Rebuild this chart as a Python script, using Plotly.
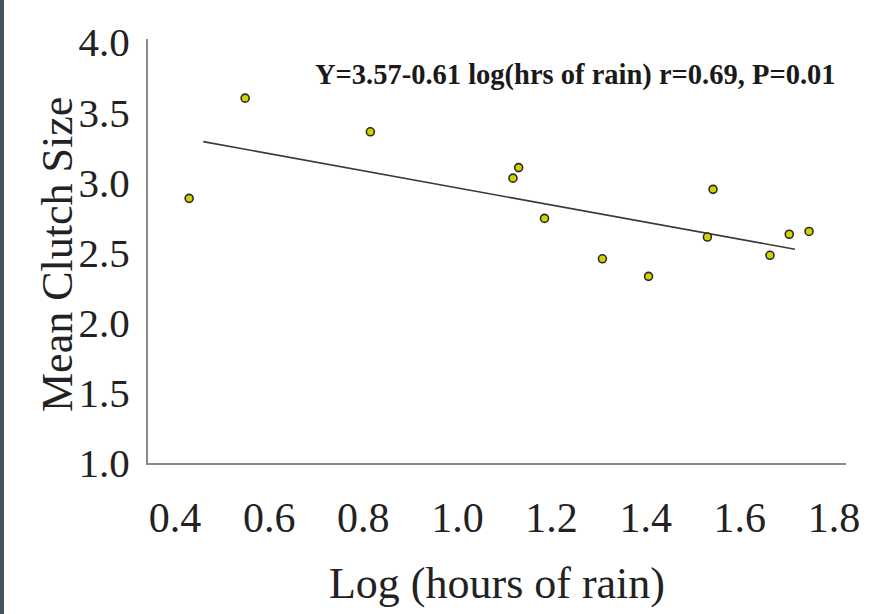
import plotly.graph_objects as go

# Data
log_hours = [0.43, 0.549, 0.815, 1.118, 1.130, 1.185, 1.308, 1.406, 1.531, 1.543, 1.664, 1.705, 1.747]
clutch = [2.886, 3.60, 3.36, 3.03, 3.105, 2.743, 2.455, 2.33, 2.61, 2.95, 2.48, 2.63, 2.65]
fit_x = [0.46, 1.717]
fit_y = [3.29, 2.523]
x_ticks = [0.4, 0.6, 0.8, 1.0, 1.2, 1.4, 1.6, 1.8]
y_ticks = [1.0, 1.5, 2.0, 2.5, 3.0, 3.5, 4.0]
equation = "Y=3.57-0.61 log(hrs of rain) r=0.69, P=0.01"

W, H = 873, 614
ML, MR, MT, MB = 148, 27, 39, 151
PW = W - ML - MR
PH = H - MT - MB

fig = go.Figure()
fig.add_trace(go.Scatter(x=fit_x, y=fit_y, mode="lines",
                         line=dict(color="#3a3a3a", width=1.6), showlegend=False))
fig.add_trace(go.Scatter(x=log_hours, y=clutch, mode="markers",
                         marker=dict(size=8, color="#d2d200", line=dict(color="#2a2a2a", width=1.6)),
                         showlegend=False))

serif = "Liberation Serif, Times New Roman, serif"
fig.update_layout(
    width=W, height=H,
    margin=dict(l=ML, r=MR, t=MT, b=MB, pad=0),
    paper_bgcolor="white", plot_bgcolor="white",
    font=dict(family=serif, color="#222"),
    xaxis=dict(range=[0.3426, 1.8255], tickvals=x_ticks, ticktext=[f"{v:.1f}" for v in x_ticks],
               showgrid=False, zeroline=False, showline=True, linecolor="#8a8a8a", linewidth=2,
               ticks="", tickfont=dict(size=42, family=serif, color="#222"), ticklabelstandoff=17,
               title=dict(text="Log (hours of rain)", font=dict(size=44, family=serif, color="#222"), standoff=27)),
    yaxis=dict(range=[1.0, 4.0214], tickvals=y_ticks, ticktext=[f"{v:.1f}" for v in y_ticks],
               showgrid=False, zeroline=False, showline=True, linecolor="#8a8a8a", linewidth=2,
               ticks="", tickfont=dict(size=41, family=serif, color="#222"), ticklabelstandoff=8,
               title=dict(text="", font=dict(size=44, family=serif, color="#222"))),
    annotations=[
        dict(text="<b>" + equation + "</b>", xref="paper", yref="paper",
             x=(313 - ML) / PW, y=(H - MB - 75) / PH, xanchor="left", yanchor="middle",
             showarrow=False, font=dict(size=28.5, family=serif, color="#1a1a1a")),
        dict(text="Mean Clutch Size", xref="paper", yref="paper", textangle=-90,
             x=(57 - ML) / PW, y=(H - MB - 255) / PH, xanchor="center", yanchor="middle",
             showarrow=False, font=dict(size=44, family=serif, color="#222")),
    ],
    shapes=[dict(type="rect", xref="paper", yref="paper",
                 x0=(0 - ML) / PW, x1=(4 - ML) / PW, y0=-MB / PH, y1=H / PH,
                 fillcolor="#46525e", line=dict(width=0), layer="above")],
)
fig.write_html("out.html", config={"displayModeBar": False},
               post_script="document.body.style.margin='0';document.body.style.overflow='hidden';")
